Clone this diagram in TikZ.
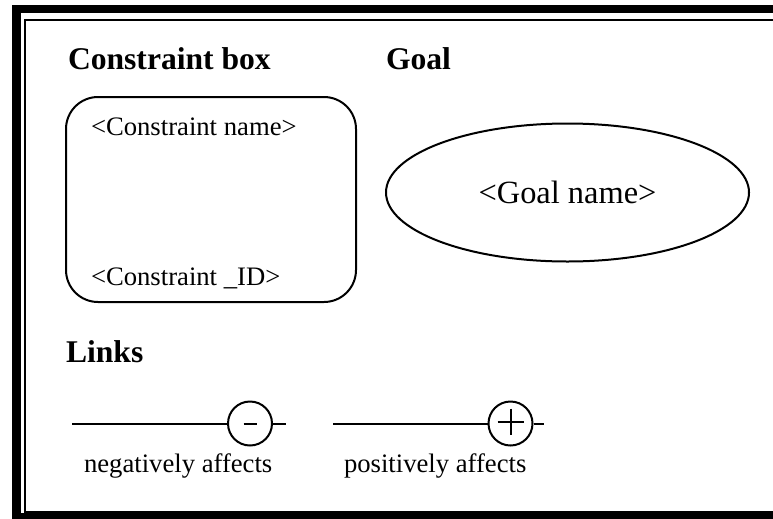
\documentclass[tikz,border=0pt]{standalone}
\usepackage{fontspec}
\setmainfont{Liberation Serif}
\usetikzlibrary{shapes.geometric,calc}

\tikzset{every picture/.style={line width=1.5pt}}
\tikzset{
	title/.style={font=\fontsize{23.7}{28}\selectfont\bfseries, inner sep=0pt},
	lbl/.style={font=\fontsize{20}{24}\selectfont, inner sep=0pt},
	sign/.style={circle, draw, minimum size=33pt, inner sep=0pt},
}

\begin{document}
\begin{tikzpicture}[x=0.75pt,y=0.75pt,yscale=-1,xscale=1]
	\useasboundingbox (0,0) rectangle (773,518);
	\clip (0,0) rectangle (773,518);
	
	%Frame (thick outer, thin inner)
	\draw [line width=6.4pt] (16.5,9) rectangle (800,517.5);
	\draw [line width=1.5pt] (24.5,19.5) rectangle (790,511.5);
	
	% Text Node
	\draw (67,69) node [anchor=base west][title] (cbtitle) {Constraint box};
	% Text Node
	\draw (385,69) node [anchor=base west][title] (goaltitle) {Goal};
	
	%Rounded Rect [constraint box]
	\draw (211,199.5) node [draw, rounded corners=24pt, minimum width=217.5pt, minimum height=153.75pt] (cbox) {};
	% Text Node
	\draw (90,135) node [anchor=base west][lbl] (cname) {<Constraint name>};
	% Text Node
	\draw (90,285) node [anchor=base west][lbl] (cid) {<Constraint \_ID>};
	
	%Shape: Ellipse [goal]
	\draw (567.5,192.5) node [ellipse, draw, minimum width=272.25pt, minimum height=103.5pt, inner sep=0pt, font=\fontsize{24.3}{29}\selectfont] (goal) {<Goal name>};
	
	% Text Node
	\draw (65,362) node [anchor=base west][title] (links) {Links};
	
	%Link: negatively affects
	\draw (250,423.5) node [sign] (neg) {};
	\coordinate (negin) at (72,423.5);
	\coordinate (negout) at (286,423.5);
	\draw (negin) -- (neg);
	\draw (neg) -- (negout);
	\draw ($(neg)+(-6.5,0)$) -- ($(neg)+(6.5,0)$);
	
	%Link: positively affects
	\draw (510.5,423.5) node [sign] (pos) {};
	\coordinate (posin) at (333,423.5);
	\coordinate (posout) at (544,423.5);
	\draw (posin) -- (pos);
	\draw (pos) -- (posout);
	\draw ($(pos)+(-13,-2)$) -- ($(pos)+(13,-2)$);
	\draw ($(pos)+(0,-15)$) -- ($(pos)+(0,11)$);
	
	% Text Node
	\draw (83,472) node [anchor=base west][lbl] (negtxt) {negatively affects};
	% Text Node
	\draw (343,472) node [anchor=base west][lbl] (postxt) {positively affects};
	
\end{tikzpicture}
\end{document}
